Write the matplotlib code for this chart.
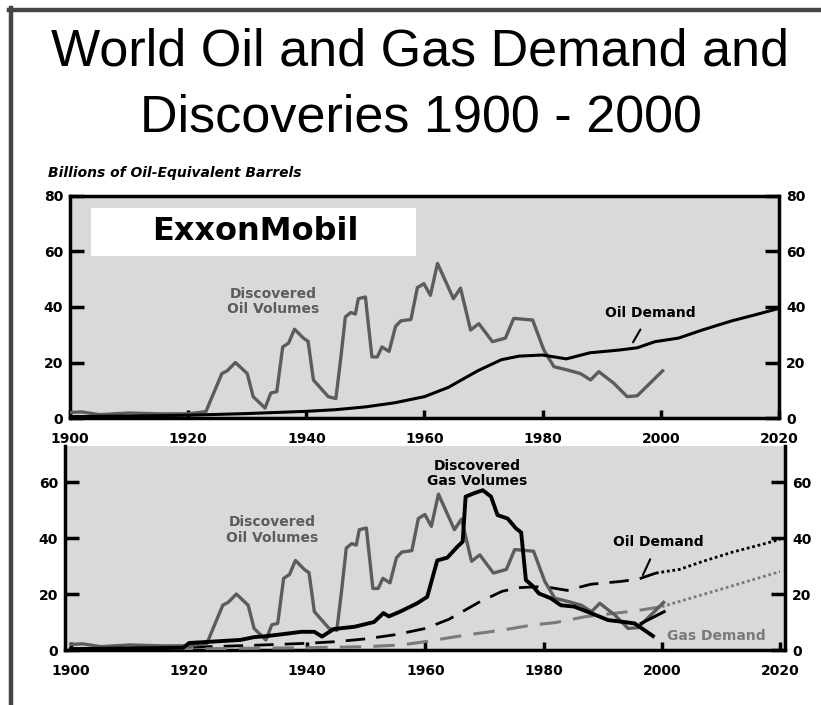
import matplotlib.pyplot as plt
from matplotlib.lines import Line2D
from matplotlib.patches import Rectangle

# --- dados (bilhoes de barris equivalentes de petroleo) ---
anos_desc_oleo = [1900, 1902, 1905, 1910, 1915, 1920, 1923, 1925.7, 1926.6, 1928, 1930, 1931,
                  1933, 1934, 1935, 1936, 1937, 1938, 1939.5, 1940.3, 1941.2, 1942.2, 1943.7,
                  1945, 1945.8, 1946.6, 1947.5, 1948.3, 1948.8, 1950, 1951.1, 1952, 1952.8,
                  1954, 1955.1, 1956, 1957.7, 1958.8, 1959.9, 1961, 1962.2, 1964.9, 1966.1,
                  1967.8, 1969.2, 1971.5, 1973.7, 1975.1, 1978.3, 1980.2, 1981.9, 1984.2,
                  1986.4, 1988.1, 1989.5, 1992, 1994.3, 1996, 2000.3]
desc_oleo = [2, 2.2, 1.2, 1.8, 1.5, 1.5, 2.3, 16, 17, 20, 16, 7.7,
             3.6, 9, 9.5, 25.6, 27, 32, 28.8, 27.6, 13.7, 11.3, 7.7,
             7, 21, 36.4, 38, 37.5, 43, 43.6, 22, 22, 25.6,
             24, 33, 35, 35.5, 47, 48.4, 44.2, 55.7, 43, 46.8,
             31.7, 34, 27.5, 28.8, 35.9, 35.3, 24.5, 18.5, 17.3,
             16, 13.7, 16.7, 12.6, 7.7, 8, 17]

anos_dem_oleo = [1900, 1910, 1920, 1930, 1940, 1945, 1950, 1955, 1960, 1964, 1969, 1973,
                 1976, 1980, 1984, 1988, 1993, 1996, 1999, 2003, 2007, 2012, 2016, 2020]
dem_oleo = [0.5, 0.7, 1.0, 1.6, 2.4, 3.0, 4.0, 5.5, 7.7, 11, 17, 21,
            22.3, 22.7, 21.3, 23.5, 24.5, 25.3, 27.5, 28.8, 31.7, 35, 37.2, 39.5]

anos_desc_gas = [1900, 1919, 1920, 1924, 1928.7, 1931, 1933.3, 1936, 1939, 1941.2, 1942.5,
                 1944.5, 1948, 1951.3, 1952.9, 1953.8, 1955.7, 1958.6, 1960.3, 1962, 1963.7,
                 1965.4, 1966.3, 1966.8, 1968.2, 1969.7, 1971.1, 1972.2, 1973.9, 1975.3,
                 1976.2, 1977, 1978.1, 1979.2, 1981.2, 1982.9, 1985.2, 1988.1, 1990.9,
                 1993.2, 1995.4, 1998.5]
desc_gas = [0.3, 0.8, 2.5, 3, 3.6, 4.6, 5, 5.7, 6.5, 6.5, 4.8,
            7.5, 8.3, 10, 13.2, 12, 13.7, 16.7, 19, 32, 33,
            36.9, 38.7, 54.8, 56, 57.1, 54.8, 48.2, 47, 43.5,
            42, 25, 23, 20.2, 18.5, 16, 15.5, 13.1, 10.7,
            10.1, 9.5, 5]
anos_desc_gas_rec = [1996.5, 2000.4]
desc_gas_rec = [9.5, 13.7]

anos_dem_gas = [1900, 1920, 1940, 1950, 1956, 1960, 1967, 1973, 1978, 1982, 1987, 1992,
                1996.5, 2000, 2009.5, 2020]
dem_gas = [0.2, 0.4, 0.8, 1.2, 1.8, 3, 5.4, 7.1, 8.9, 9.8, 11.9, 13.1,
           14.3, 15.5, 21.4, 28]

anos_ticks = [1900, 1920, 1940, 1960, 1980, 2000, 2020]

CINZA = '#5c5c5c'
FUNDO = '#d9d9d9'
TICKFONT = dict(family='DejaVu Sans', weight='bold', size=10)

fig = plt.figure(figsize=(8.21, 7.05), dpi=100)

# moldura cinza escura (esquerda e topo)
fig.add_artist(Line2D([11 / 821, 11 / 821], [0, 1 - 8 / 705], color='#444444', lw=3.2))
fig.add_artist(Line2D([9 / 821, 1], [1 - 9.5 / 705, 1 - 9.5 / 705], color='#444444', lw=3.2))

fig.text(420 / 821, 1 - 65 / 705, 'World Oil and Gas Demand and', ha='center', va='baseline',
         fontsize=37.5, family='Liberation Sans')
fig.text(421 / 821, 1 - 131 / 705, 'Discoveries 1900 - 2000', ha='center', va='baseline',
         fontsize=37.5, family='Liberation Sans')
fig.text(48 / 821, 1 - 173 / 705, 'Billions of Oil-Equivalent Barrels', ha='left', va='center',
         fontsize=10, family='DejaVu Sans', weight='bold', style='italic')


def estilo(ax, ylim, yticks, topo):
    ax.set_facecolor(FUNDO)
    ax.set_ylim(*ylim)
    ax.set_xticks(anos_ticks)
    ax.set_yticks(yticks)
    ax.tick_params(axis='y', direction='in', length=10, width=2.5, left=True, right=True,
                   labelleft=True, labelright=True, pad=5)
    ax.tick_params(axis='x', direction='in', length=6, width=2.5, pad=10)
    for lab in ax.get_xticklabels() + ax.get_yticklabels():
        lab.set_fontproperties(TICKFONT)
    for lado in ['left', 'right', 'bottom']:
        ax.spines[lado].set_linewidth(2.5)
    if topo:
        ax.spines['top'].set_linewidth(2.5)
    else:
        ax.spines['top'].set_visible(False)


# ---- painel de cima ----
ax1 = fig.add_axes([70 / 821, 1 - 418 / 705, 709 / 821, 222 / 705])
ax1.set_xlim(1900, 2020)
estilo(ax1, (0, 80), [0, 20, 40, 60, 80], True)
ax1.plot(anos_desc_oleo, desc_oleo, color=CINZA, lw=2.4, zorder=3)
ax1.plot(anos_dem_oleo, dem_oleo, color='black', lw=2.2, zorder=4)

ax1.add_patch(Rectangle((91 / 821, 1 - 256 / 705), 325 / 821, 48 / 705, transform=fig.transFigure,
                        facecolor='white', edgecolor='none', zorder=5))
fig.text(255 / 821, 1 - 232 / 705, 'ExxonMobil', ha='center', va='center', fontsize=23,
         family='DejaVu Sans', weight='bold', zorder=6)

ax1.text(1934.4, 42, 'Discovered\nOil Volumes', ha='center', va='center', fontsize=10,
         weight='bold', color=CINZA, linespacing=1.1)
ax1.annotate('Oil Demand', xy=(1995.3, 27.3), xytext=(1998.2, 38), ha='center', va='center',
             fontsize=10, weight='bold', color='black',
             arrowprops=dict(arrowstyle='-', color='black', lw=1.5, shrinkA=6, shrinkB=0))

# ---- painel de baixo ----
ax2 = fig.add_axes([65 / 821, 1 - 650 / 705, 720 / 821, 204 / 705])
ax2.set_xlim(1899.0, 2020.85)
estilo(ax2, (0, 72.9), [0, 20, 40, 60], False)

ate = [i for i, a in enumerate(anos_dem_oleo) if a <= 1999]
depois = [i for i, a in enumerate(anos_dem_oleo) if a >= 1999]
ax2.plot([anos_dem_oleo[i] for i in ate], [dem_oleo[i] for i in ate], color='black', lw=2.0,
         dashes=(7, 4), zorder=3)
ax2.plot([anos_dem_oleo[i] for i in depois], [dem_oleo[i] for i in depois], color='black',
         lw=2.0, linestyle=(0, (1, 1)), zorder=3)

ate_g = [i for i, a in enumerate(anos_dem_gas) if a <= 2000]
depois_g = [i for i, a in enumerate(anos_dem_gas) if a >= 2000]
ax2.plot([anos_dem_gas[i] for i in ate_g], [dem_gas[i] for i in ate_g], color='#7a7a7a', lw=2.2,
         dashes=(7, 4), zorder=3)
ax2.plot([anos_dem_gas[i] for i in depois_g], [dem_gas[i] for i in depois_g], color='#7a7a7a',
         lw=2.0, linestyle=(0, (1, 1)), zorder=3)

ax2.plot(anos_desc_oleo, desc_oleo, color=CINZA, lw=2.4, zorder=4)
ax2.plot(anos_desc_gas, desc_gas, color='black', lw=2.8, zorder=5)
ax2.plot(anos_desc_gas_rec, desc_gas_rec, color='black', lw=2.2, zorder=5)

ax2.text(1934.1, 42.9, 'Discovered\nOil Volumes', ha='center', va='center', fontsize=10,
         weight='bold', color=CINZA, linespacing=1.1)
ax2.text(1968.8, 63, 'Discovered\nGas Volumes', ha='center', va='center', fontsize=10,
         weight='bold', color='black', linespacing=1.1)
ax2.annotate('Oil Demand', xy=(1996.8, 26.8), xytext=(1999.4, 38.6), ha='center', va='center',
             fontsize=10, weight='bold', color='black',
             arrowprops=dict(arrowstyle='-', color='black', lw=1.5, shrinkA=6, shrinkB=0))
ax2.text(2009.2, 5, 'Gas Demand', ha='center', va='center', fontsize=10, weight='bold',
         color='#7a7a7a')

fig.savefig('out.png', dpi=100)
